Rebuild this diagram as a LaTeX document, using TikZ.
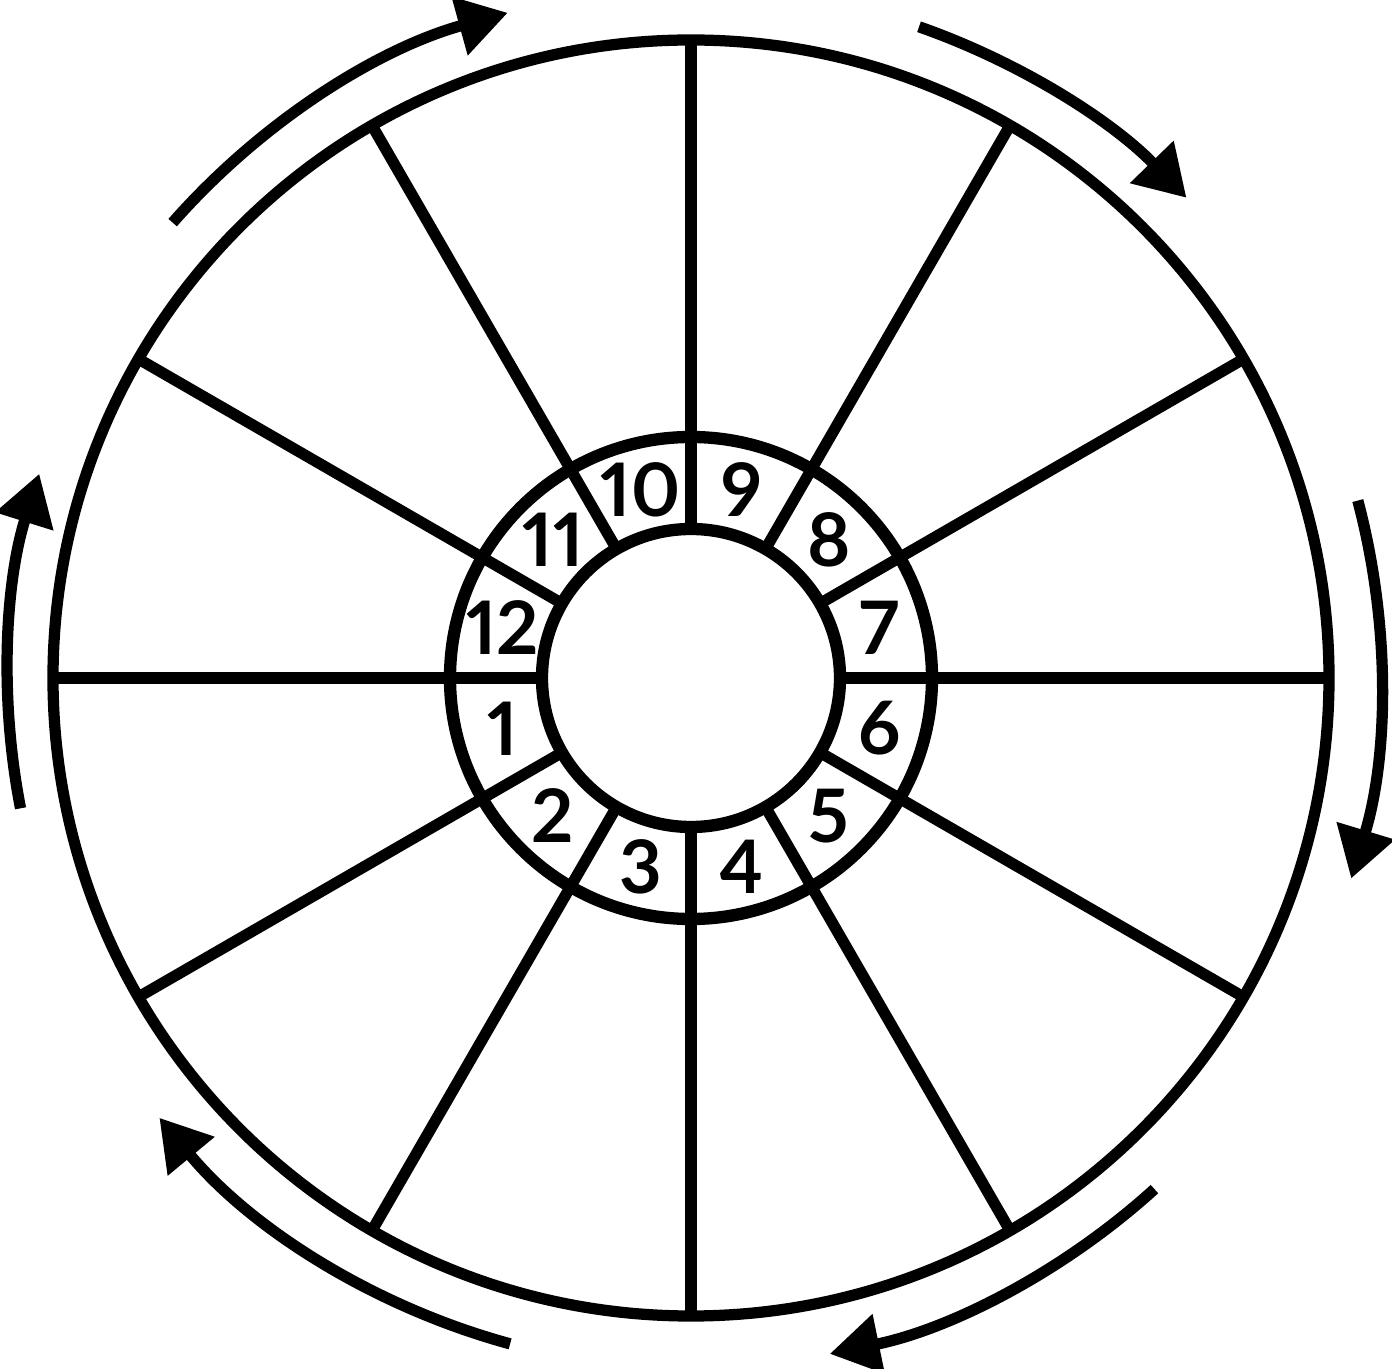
\documentclass[tikz,border=0pt]{standalone}
\usepackage{fontspec}
\setmainfont{Lato}[Numbers=Proportional]
\usetikzlibrary{arrows.meta}

\tikzset{
  wheel/.style={line width=3.2pt},
  turn/.style={line width=3.2pt,-{Triangle[length=0.5cm,width=0.58cm]}},
  house/.style={font=\fontsize{21}{21}\bfseries\selectfont,inner sep=0pt}
}

\begin{document}
\begin{tikzpicture}
\def\rin{1.49}
\def\rring{2.41}
\def\rout{6.38}
\def\rarr{6.9}

\useasboundingbox (-6.91,-6.91) rectangle (7.01,6.78);

% spokes
\draw[wheel] (0:\rin) -- (0:\rout);
\draw[wheel] (30:\rin) -- (30:\rout);
\draw[wheel] (60:\rin) -- (60:\rout);
\draw[wheel] (90:\rin) -- (90:\rout);
\draw[wheel] (120:\rin) -- (120:\rout);
\draw[wheel] (150:\rin) -- (150:\rout);
\draw[wheel] (180:\rin) -- (180:\rout);
\draw[wheel] (210:\rin) -- (210:\rout);
\draw[wheel] (240:\rin) -- (240:\rout);
\draw[wheel] (270:\rin) -- (270:\rout);
\draw[wheel] (300:\rin) -- (300:\rout);
\draw[wheel] (330:\rin) -- (330:\rout);

% circles
\draw[wheel] (0,0) circle (\rout);
\draw[wheel,line width=3.5pt] (0,0) circle (\rring);
\draw[wheel,line width=3.5pt,fill=white] (0,0) circle (\rin);

% house numbers
\node[house] (h1) at (195:1.95) {1};
\node[house] (h2) at (225:1.95) {2};
\node[house] (h3) at (255:1.95) {3};
\node[house] (h4) at (285:1.95) {4};
\node[house] (h5) at (315:1.95) {5};
\node[house] (h6) at (345:1.95) {6};
\node[house] (h7) at (15:1.95) {7};
\node[house] (h8) at (45:1.95) {8};
\node[house] (h9) at (75:1.95) {9};
\node[house] (h10) at (105:1.95) {10};
\node[house] (h11) at (135:1.95) {11};
\node[house] (h12) at (165:1.95) {12};

% arrows round the wheel
\draw[turn] (138.7:\rarr) arc[start angle=138.7, end angle=105.4, radius=\rarr];
\draw[turn] (70.7:\rarr) arc[start angle=70.7, end angle=44.1, radius=\rarr];
\draw[turn] (14.9:\rarr) arc[start angle=14.9, end angle=-16.9, radius=\rarr];
\draw[turn] (-47.8:\rarr) arc[start angle=-47.8, end angle=-78.4, radius=\rarr];
\draw[turn] (254.8:\rarr) arc[start angle=254.8, end angle=219.6, radius=\rarr];
\draw[turn] (191:6.83) arc[start angle=191, end angle=162.6, radius=6.83];

\end{tikzpicture}
\end{document}
